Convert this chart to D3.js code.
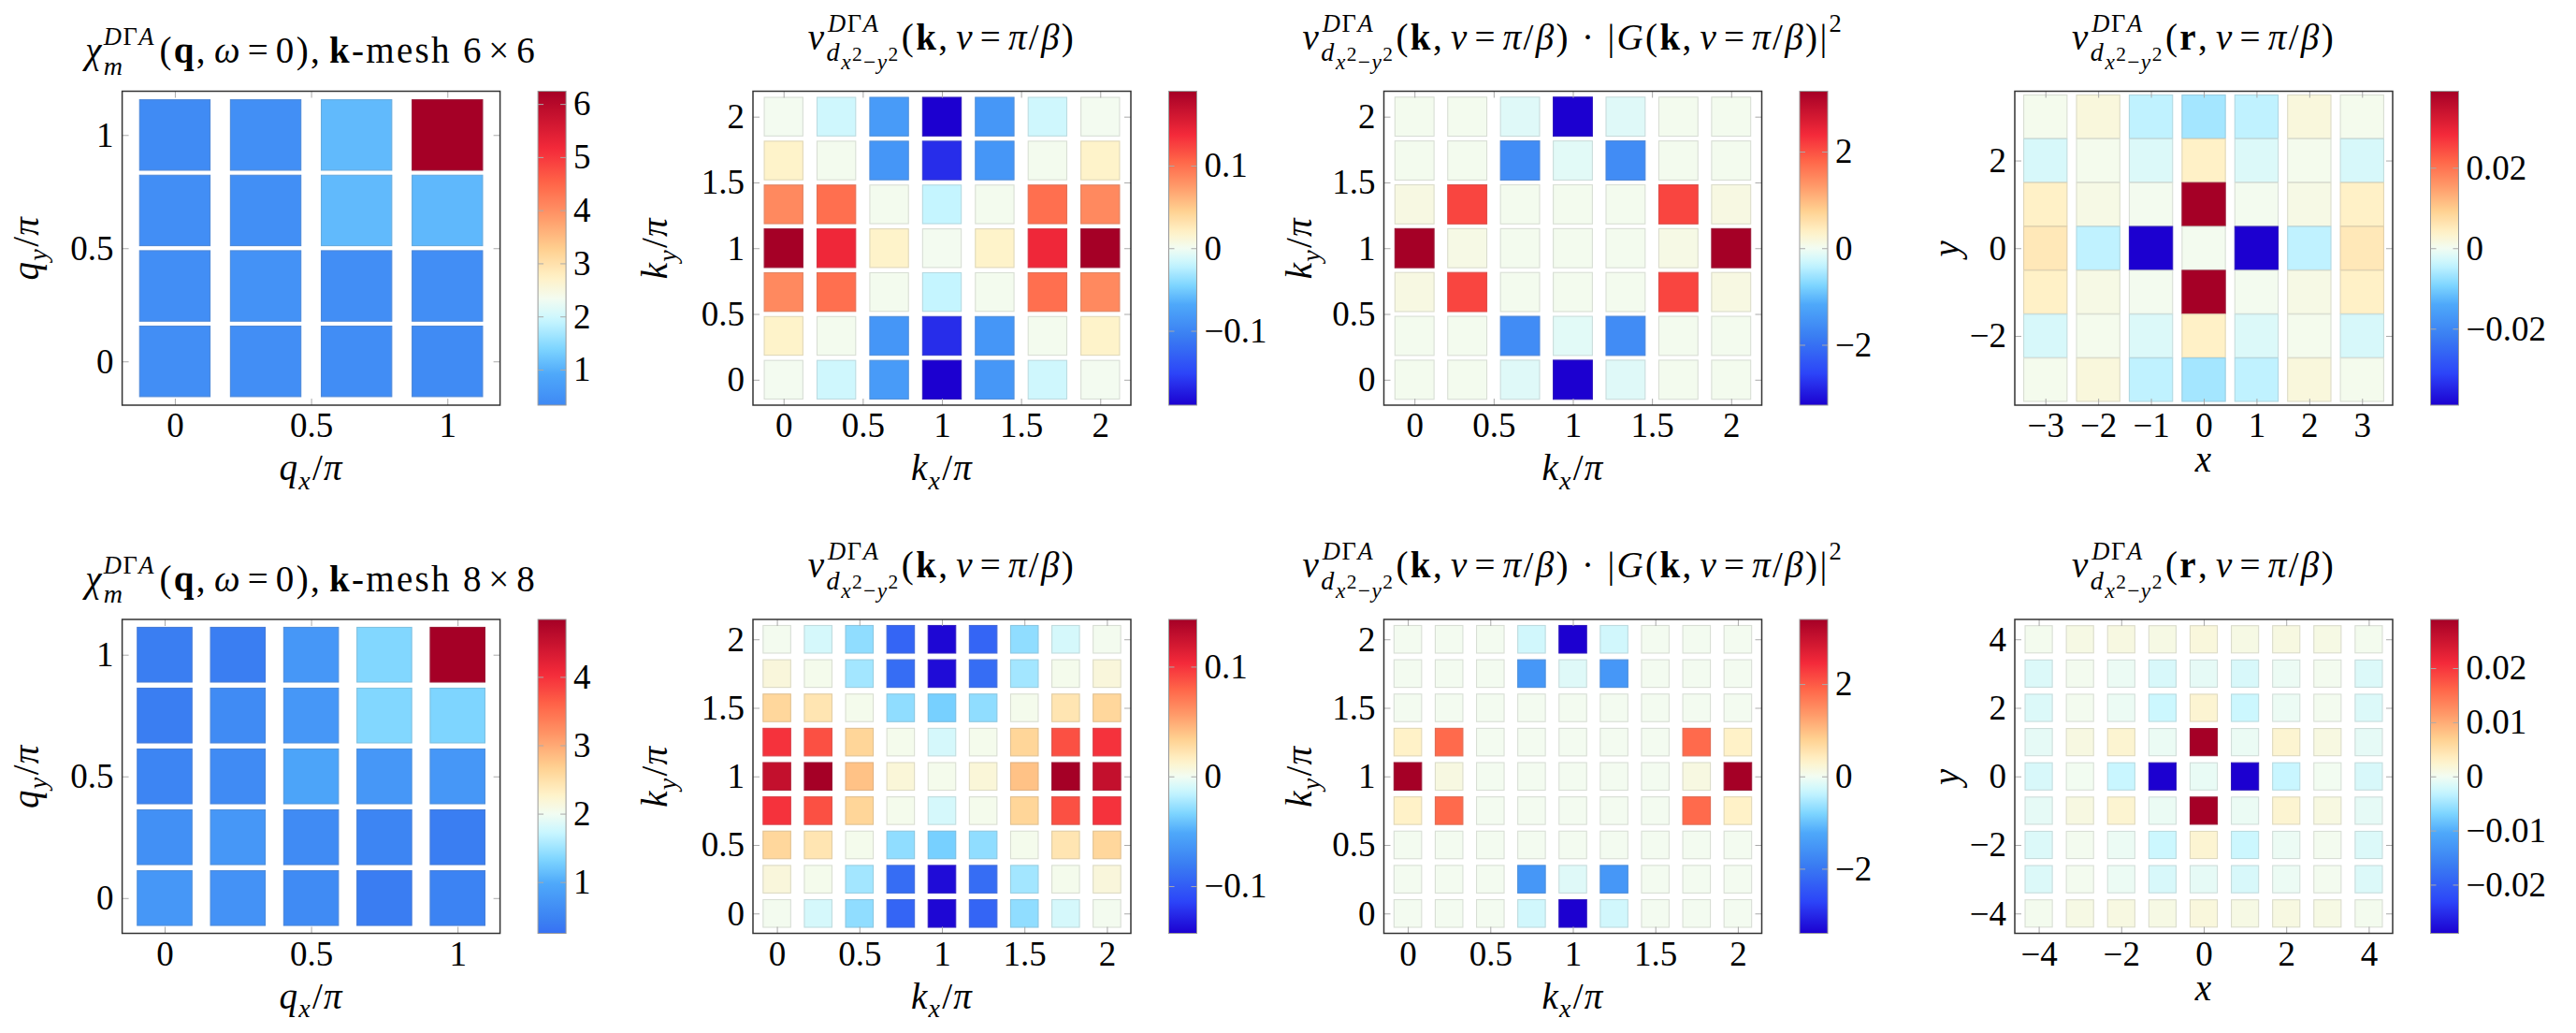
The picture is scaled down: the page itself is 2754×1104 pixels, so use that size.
<!DOCTYPE html>
<html>
<head>
<meta charset="utf-8">
<script src="https://cdn.jsdelivr.net/npm/d3@7"></script>
<style>
  body { margin: 0; background: #fff; }
  svg text { font-family: "Liberation Serif", serif; fill: #000; white-space: pre; }
</style>
</head>
<body>
<svg id="fig" width="2754" height="1104"></svg>
<script>
// ---- grids (cell centres) ----
const qGrid6 = [0, 0.3333, 0.6667, 1];
const kGrid6 = [0, 0.3333, 0.6667, 1, 1.3333, 1.6667, 2];
const rGrid6 = [-3, -2, -1, 0, 1, 2, 3];
const qGrid8 = [0, 0.25, 0.5, 0.75, 1];
const kGrid8 = [0, 0.25, 0.5, 0.75, 1, 1.25, 1.5, 1.75, 2];
const rGrid8 = [-4, -3, -2, -1, 0, 1, 2, 3, 4];

// ---- values, top row (largest y) first ----
const chiMesh6 = [
  [0.36, 0.45, 1.10, 6.24],
  [0.42, 0.44, 1.10, 1.08],
  [0.42, 0.50, 0.42, 0.42],
  [0.42, 0.42, 0.41, 0.36]
];
const vkMesh6 = [
  [0.001, -0.016, -0.080, -0.190, -0.084, -0.016, 0.001],
  [0.018, 0.002, -0.085, -0.165, -0.085, 0.002, 0.018],
  [0.085, 0.100, 0.002, -0.020, 0.002, 0.100, 0.085],
  [0.190, 0.140, 0.018, 0.001, 0.018, 0.140, 0.190],
  [0.085, 0.100, 0.002, -0.020, 0.002, 0.100, 0.085],
  [0.018, 0.002, -0.085, -0.165, -0.085, 0.002, 0.018],
  [0.001, -0.016, -0.080, -0.190, -0.084, -0.016, 0.001]
];
const vkGMesh6 = [
  [0.03, 0.03, -0.15, -3.25, -0.15, 0.03, 0.03],
  [0.03, 0.03, -1.60, -0.12, -1.60, 0.03, 0.03],
  [0.12, 2.10, 0.03, 0.03, 0.03, 2.10, 0.12],
  [3.25, 0.10, 0.03, 0.03, 0.03, 0.10, 3.25],
  [0.12, 2.10, 0.03, 0.03, 0.03, 2.10, 0.12],
  [0.03, 0.03, -1.60, -0.12, -1.60, 0.03, 0.03],
  [0.03, 0.03, -0.15, -3.25, -0.15, 0.03, 0.03]
];
const vrMesh6 = [
  [0.0005, 0.0020, -0.0045, -0.0065, -0.0045, 0.0020, 0.0005],
  [-0.0025, 0.0005, -0.0020, 0.0040, -0.0020, 0.0005, -0.0025],
  [0.0040, 0.0012, 0.0003, 0.0390, 0.0003, 0.0012, 0.0040],
  [0.0055, -0.0045, -0.0390, 0.0003, -0.0390, -0.0045, 0.0055],
  [0.0040, 0.0012, 0.0003, 0.0390, 0.0003, 0.0012, 0.0040],
  [-0.0025, 0.0005, -0.0020, 0.0040, -0.0020, 0.0005, -0.0025],
  [0.0005, 0.0020, -0.0045, -0.0065, -0.0045, 0.0020, 0.0005]
];
const chiMesh8 = [
  [0.41, 0.41, 0.75, 1.35, 4.84],
  [0.41, 0.58, 0.75, 1.35, 1.33],
  [0.50, 0.58, 0.92, 0.75, 0.75],
  [0.65, 0.75, 0.58, 0.50, 0.41],
  [0.75, 0.68, 0.58, 0.40, 0.48]
];
const vkMesh8 = [
  [0.001, -0.010, -0.029, -0.095, -0.140, -0.095, -0.029, -0.010, 0.001],
  [0.008, 0.002, -0.024, -0.090, -0.138, -0.090, -0.024, 0.002, 0.008],
  [0.030, 0.022, 0.002, -0.029, -0.036, -0.029, 0.002, 0.022, 0.030],
  [0.100, 0.088, 0.031, 0.002, -0.010, 0.002, 0.031, 0.088, 0.100],
  [0.128, 0.143, 0.040, 0.009, 0.002, 0.009, 0.040, 0.143, 0.128],
  [0.100, 0.088, 0.031, 0.002, -0.010, 0.002, 0.031, 0.088, 0.100],
  [0.030, 0.022, 0.002, -0.029, -0.036, -0.029, 0.002, 0.022, 0.030],
  [0.008, 0.002, -0.024, -0.090, -0.138, -0.090, -0.024, 0.002, 0.008],
  [0.001, -0.010, -0.029, -0.095, -0.140, -0.095, -0.029, -0.010, 0.001]
];
const vkGMesh8 = [
  [0.02, 0.02, 0.02, -0.27, -3.40, -0.27, 0.02, 0.02, 0.02],
  [0.02, 0.02, 0.02, -1.50, -0.15, -1.50, 0.02, 0.02, 0.02],
  [0.02, 0.02, 0.02, 0.02, 0.02, 0.02, 0.02, 0.02, 0.02],
  [0.34, 1.84, 0.02, 0.02, 0.02, 0.02, 0.02, 1.84, 0.34],
  [3.40, 0.14, 0.02, 0.02, 0.02, 0.02, 0.02, 0.14, 3.40],
  [0.34, 1.84, 0.02, 0.02, 0.02, 0.02, 0.02, 1.84, 0.34],
  [0.02, 0.02, 0.02, 0.02, 0.02, 0.02, 0.02, 0.02, 0.02],
  [0.02, 0.02, 0.02, -1.50, -0.15, -1.50, 0.02, 0.02, 0.02],
  [0.02, 0.02, 0.02, -0.27, -3.40, -0.27, 0.02, 0.02, 0.02]
];
const vrMesh8 = [
  [0.0003, 0.0010, 0.0012, 0.0010, 0.0015, 0.0010, 0.0012, 0.0010, 0.0003],
  [-0.0015, 0.0002, -0.0004, -0.0018, -0.0008, -0.0018, -0.0004, 0.0002, -0.0015],
  [-0.0015, 0.0002, -0.0004, -0.0026, 0.0022, -0.0026, -0.0004, 0.0002, -0.0015],
  [-0.0008, 0.0012, 0.0023, -0.0005, 0.0290, -0.0005, 0.0023, 0.0012, -0.0008],
  [-0.0018, 0.0001, -0.0028, -0.0290, -0.0006, -0.0290, -0.0028, 0.0001, -0.0018],
  [-0.0008, 0.0012, 0.0023, -0.0005, 0.0290, -0.0005, 0.0023, 0.0012, -0.0008],
  [-0.0015, 0.0002, -0.0004, -0.0026, 0.0022, -0.0026, -0.0004, 0.0002, -0.0015],
  [-0.0015, 0.0002, -0.0004, -0.0018, -0.0008, -0.0018, -0.0004, 0.0002, -0.0015],
  [0.0003, 0.0010, 0.0012, 0.0010, 0.0015, 0.0010, 0.0012, 0.0010, 0.0003]
];

// ---- colour ranges [min, max] shown on the bars, and the white point ----
const chiMesh6Range = [0.33, 6.24], chiMesh6White = 2.32;
const chiMesh8Range = [0.25, 4.84], chiMesh8White = 2.0;
const vkMesh6Range = [-0.19, 0.19];
const vkGMesh6Range = [-3.25, 3.25];
const vrMesh6Range = [-0.039, 0.039];
const vkMesh8Range = [-0.143, 0.143];
const vkGMesh8Range = [-3.4, 3.4];
const vrMesh8Range = [-0.029, 0.029];

// ---- tick labels ----
const qTicks = [0, 0.5, 1];
const kTicks = [0, 0.5, 1, 1.5, 2];
const r6XTicks = [-3, -2, -1, 0, 1, 2, 3];
const r6YTicks = [-2, 0, 2];
const r8Ticks = [-4, -2, 0, 2, 4];
const chi6Bar = [1, 2, 3, 4, 5, 6];
const chi8Bar = [1, 2, 3, 4];
const vkBar = [-0.1, 0, 0.1];
const vkGBar = [-2, 0, 2];
const vr6Bar = [-0.02, 0, 0.02];
const vr8Bar = [-0.02, -0.01, 0, 0.01, 0.02];

// colormap (position 0..1 -> colour)
const cmapPos = [0, 0.1, 0.22, 0.32, 0.38, 0.45, 0.5, 0.55, 0.62, 0.7, 0.78, 0.86, 1];
const cmapCol = ['#1c00d0', '#2c44f8', '#3a7ef2', '#4ea8fa', '#7cd4ff', '#c8f6ff', '#f2fcf2',
  '#fff2c8', '#ffd090', '#ff9868', '#ff6448', '#f42a3a', '#a50026'];

const FONT = '"Liberation Serif", serif';
const FS = 37;
const colLeft = [130.6, 805, 1479.5, 2154];
const rowTop = [97.5, 662];
const axW = 404, axH = 335.5;
const yLabOff = [90, 92, 78, 60];

const svg = d3.select('#fig');
svg.append('rect').attr('width', 2754).attr('height', 1104).attr('fill', '#fff');

// lay out a run of math pieces, centred on x=0, baseline y=0
function mathText(parent, runs, size, spacing) {
  const g = parent.append('g');
  let x = 0, saveX = 0, maxX = 0;
  runs.forEach(r => {
    if (r.save) { saveX = x; maxX = x; return; }
    if (r.restore) { maxX = Math.max(maxX, x); x = saveX; return; }
    if (r.end) { x = Math.max(x, maxX); return; }
    const fs = size * (r.s || 1);
    const t = g.append('text')
      .attr('x', x)
      .attr('y', (r.y || 0) * size)
      .attr('font-family', FONT)
      .attr('font-size', fs)
      .attr('letter-spacing', (spacing || 0) * fs)
      .attr('font-style', r.i ? 'italic' : null)
      .attr('font-weight', r.b ? 'bold' : null)
      .text(r.t);
    x += t.node().getComputedTextLength() + (r.k || 0) * size;
  });
  g.attr('transform', `translate(${-x / 2},0)`);
  return g;
}

const dga = () => [{ t: 'D', i: 1, s: .68, y: -.48 }, { t: 'Γ', s: .68, y: -.48 }, { t: 'A', i: 1, s: .68, y: -.48, k: .05 }];
const vHead = () => [{ t: 'v', i: 1 }, { save: 1 }, { t: '', k: .04 }, ...dga(), { restore: 1 },
  { t: 'd', i: 1, s: .72, y: .33 }, { t: 'x', i: 1, s: .6, y: .56 }, { t: '2', s: .55, y: .32 },
  { t: '−', s: .6, y: .56 }, { t: 'y', i: 1, s: .6, y: .56 }, { t: '2', s: .55, y: .32 }, { end: 1 }, { t: '', k: .06 }];
const args = b => [{ t: '(' }, { t: b, b: 1 }, { t: ',', k: .18 }, { t: 'ν', i: 1, k: .15 }, { t: '=', k: .15 },
  { t: 'π', i: 1 }, { t: '/' }, { t: 'β', i: 1 }, { t: ')' }];
const chiTitle = n => [{ t: 'χ', i: 1 }, { save: 1 }, ...dga(), { restore: 1 },
  { t: 'm', i: 1, s: .72, y: .33 }, { end: 1 }, { t: '', k: .06 }, { t: '(' }, { t: 'q', b: 1 }, { t: ',', k: .18 },
  { t: 'ω', i: 1, k: .15 }, { t: '=', k: .15 }, { t: '0),', k: .2 }, { t: 'k', b: 1 },
  { t: '-mesh ' + n, k: .14 }, { t: '×', k: .14 }, { t: n }];
const titles = {
  chi6: chiTitle(6), chi8: chiTitle(8),
  vk: [...vHead(), ...args('k')],
  vkG: [...vHead(), ...args('k'), { t: ' · |' }, { t: 'G', i: 1 }, ...args('k'), { t: '|' }, { t: '2', s: .68, y: -.48 }],
  vr: [...vHead(), ...args('r')]
};
const axLab = (v, sub) => sub
  ? [{ t: v, i: 1 }, { t: sub, i: 1, s: .72, y: .25, k: .04 }, { t: '/' }, { t: 'π', i: 1 }]
  : [{ t: v, i: 1 }];

const panels = [
  { row: 0, col: 0, xs: qGrid6, ys: qGrid6, z: chiMesh6, range: chiMesh6Range, white: chiMesh6White, bar: chi6Bar, xt: qTicks, yt: qTicks, title: 'chi6', lab: 'q', cell: 75.3 },
  { row: 0, col: 1, xs: kGrid6, ys: kGrid6, z: vkMesh6, range: vkMesh6Range, white: 0, bar: vkBar, xt: kTicks, yt: kTicks, title: 'vk', lab: 'k', cell: 41.3 },
  { row: 0, col: 2, xs: kGrid6, ys: kGrid6, z: vkGMesh6, range: vkGMesh6Range, white: 0, bar: vkGBar, xt: kTicks, yt: kTicks, title: 'vkG', lab: 'k', cell: 41.8 },
  { row: 0, col: 3, xs: rGrid6, ys: rGrid6, z: vrMesh6, range: vrMesh6Range, white: 0, bar: vr6Bar, xt: r6XTicks, yt: r6YTicks, title: 'vr', lab: null, cell: 46.3 },
  { row: 1, col: 0, xs: qGrid8, ys: qGrid8, z: chiMesh8, range: chiMesh8Range, white: chiMesh8White, bar: chi8Bar, xt: qTicks, yt: qTicks, title: 'chi8', lab: 'q', cell: 58.5 },
  { row: 1, col: 1, xs: kGrid8, ys: kGrid8, z: vkMesh8, range: vkMesh8Range, white: 0, bar: vkBar, xt: kTicks, yt: kTicks, title: 'vk', lab: 'k', cell: 29.5 },
  { row: 1, col: 2, xs: kGrid8, ys: kGrid8, z: vkGMesh8, range: vkGMesh8Range, white: 0, bar: vkGBar, xt: kTicks, yt: kTicks, title: 'vkG', lab: 'k', cell: 29.5 },
  { row: 1, col: 3, xs: rGrid8, ys: rGrid8, z: vrMesh8, range: vrMesh8Range, white: 0, bar: vr8Bar, xt: r8Ticks, yt: r8Ticks, title: 'vr', lab: null, cell: 29.1 }
];

const fmt = d3.format('~g');

function styleAxis(g) {
  g.select('.domain').remove();
  g.attr('font-size', FS).attr('font-family', FONT);
  g.selectAll('.tick text').attr('font-family', FONT).attr('font-size', FS);
  g.selectAll('.tick line').attr('stroke', '#aaa').attr('stroke-width', 1);
}

panels.forEach((p, pi) => {
  const left = colLeft[p.col], top = rowTop[p.row];
  const right = left + axW, bottom = top + axH;
  const ext = (p.xs[1] - p.xs[0]) / 2 * 1.16;
  const x = d3.scaleLinear().domain([d3.min(p.xs) - ext, d3.max(p.xs) + ext]).range([left, right]);
  const y = d3.scaleLinear().domain([d3.min(p.ys) - ext, d3.max(p.ys) + ext]).range([bottom, top]);

  // colour scale: white point sits in the middle of the colormap
  const hi = p.range[1], lo = 2 * p.white - hi;
  const color = d3.scaleLinear()
    .domain(cmapPos.map(t => lo + t * (hi - lo)))
    .range(cmapCol)
    .interpolate(d3.interpolateRgb)
    .clamp(true);

  const cells = [];
  p.z.forEach((rowVals, r) => rowVals.forEach((v, c) => {
    cells.push({ x: p.xs[c], y: p.ys[p.ys.length - 1 - r], v });
  }));

  svg.append('g').selectAll('rect').data(cells).join('rect')
    .attr('x', d => x(d.x) - p.cell / 2)
    .attr('y', d => y(d.y) - p.cell / 2)
    .attr('width', p.cell)
    .attr('height', p.cell)
    .attr('fill', d => color(d.v))
    .attr('stroke', d => d3.interpolateRgb(color(d.v), '#777')(0.22))
    .attr('stroke-width', 1.1);

  // axes (ticks point inward, light grey)
  svg.append('g').attr('transform', `translate(0,${bottom})`)
    .call(d3.axisBottom(x).tickValues(p.xt).tickSize(-7).tickPadding(8).tickFormat(fmt))
    .call(styleAxis);
  svg.append('g').attr('transform', `translate(0,${top})`)
    .call(d3.axisTop(x).tickValues(p.xt).tickSize(-7).tickFormat(''))
    .call(styleAxis);
  svg.append('g').attr('transform', `translate(${left},0)`)
    .call(d3.axisLeft(y).tickValues(p.yt).tickSize(-7).tickPadding(9).tickFormat(fmt))
    .call(styleAxis);
  svg.append('g').attr('transform', `translate(${right},0)`)
    .call(d3.axisRight(y).tickValues(p.yt).tickSize(-7).tickFormat(''))
    .call(styleAxis);

  svg.append('rect')
    .attr('x', left).attr('y', top).attr('width', axW).attr('height', axH)
    .attr('fill', 'none').attr('stroke', '#333').attr('stroke-width', 1.5);

  // colour bar
  const bx = left + 444.5, bw = 30;
  const cb = d3.scaleLinear().domain(p.range).range([bottom, top]);
  const gid = 'grad' + pi;
  const grad = svg.append('defs').append('linearGradient')
    .attr('id', gid).attr('x1', 0).attr('x2', 0).attr('y1', 1).attr('y2', 0);
  grad.selectAll('stop').data(d3.range(0, 1.0001, 0.02)).join('stop')
    .attr('offset', t => t)
    .attr('stop-color', t => color(p.range[0] + t * (p.range[1] - p.range[0])));
  svg.append('rect')
    .attr('x', bx).attr('y', top).attr('width', bw).attr('height', axH)
    .attr('fill', `url(#${gid})`).attr('stroke', '#999').attr('stroke-width', 1);
  svg.append('g').attr('transform', `translate(${bx + bw},0)`)
    .call(d3.axisRight(cb).tickValues(p.bar).tickSize(-6).tickPadding(8).tickFormat(fmt))
    .call(styleAxis);
  svg.append('g').attr('transform', `translate(${bx},0)`)
    .call(d3.axisLeft(cb).tickValues(p.bar).tickSize(-6).tickFormat(''))
    .call(styleAxis);

  // title
  const tb = top + (p.col === 0 ? -30.5 : -45);
  mathText(svg.append('g').attr('transform', `translate(${(left + right) / 2},${tb})`), titles[p.title], 39, 0.06);

  // axis labels
  const xb = bottom + (p.lab ? 80 : 71);
  mathText(svg.append('g').attr('transform', `translate(${(left + right) / 2},${xb})`),
    p.lab ? axLab(p.lab, 'x') : axLab('x'), 39, 0.03);
  mathText(svg.append('g').attr('transform', `translate(${left - yLabOff[p.col]},${(top + bottom) / 2}) rotate(-90)`),
    p.lab ? axLab(p.lab, 'y') : axLab('y'), 39, 0.03);
});
</script>
</body>
</html>
